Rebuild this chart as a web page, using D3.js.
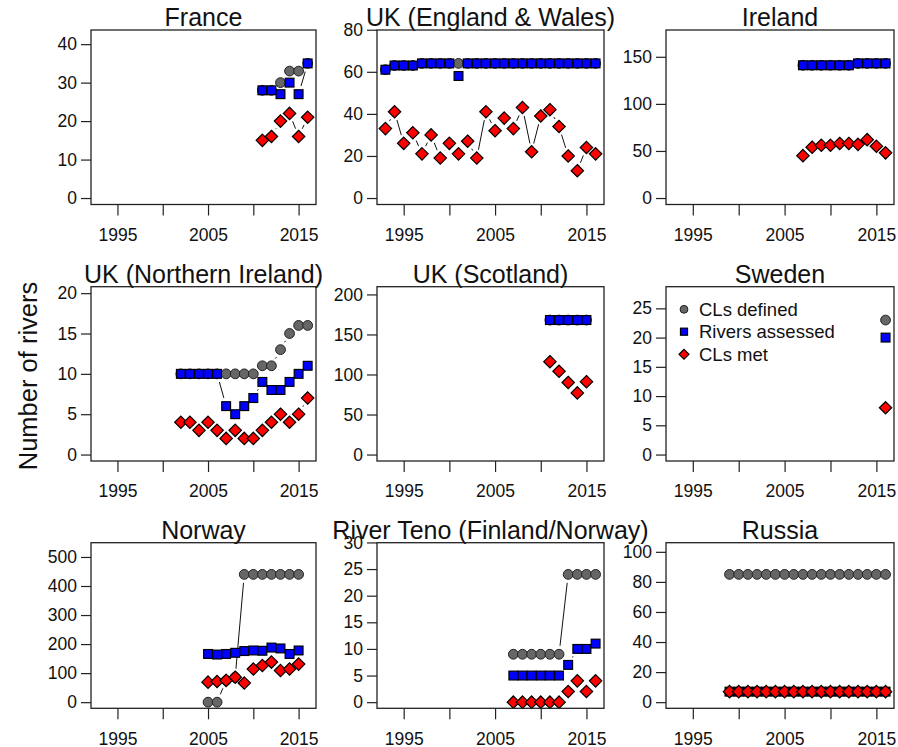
<!DOCTYPE html>
<html>
<head>
<meta charset="utf-8">
<script src="https://cdn.jsdelivr.net/npm/d3@7"></script>
<style>
  body { margin: 0; background: #fff; }
  svg { display: block; font-family: "Liberation Sans", Arial, sans-serif; }
</style>
</head>
<body>
<div id="chart"></div>
<script>
// panel titles, in reading order
const titles = ['France', 'UK (England & Wales)', 'Ireland',
  'UK (Northern Ireland)', 'UK (Scotland)', 'Sweden',
  'Norway', 'River Teno (Finland/Norway)', 'Russia'];

// years for each panel
const franceYears = [2011, 2012, 2013, 2014, 2015, 2016];
const ewYears = [1993, 1994, 1995, 1996, 1997, 1998, 1999, 2000, 2001, 2002, 2003, 2004,
  2005, 2006, 2007, 2008, 2009, 2010, 2011, 2012, 2013, 2014, 2015, 2016];
const irelandYears = [2007, 2008, 2009, 2010, 2011, 2012, 2013, 2014, 2015, 2016];
const niYears = [2002, 2003, 2004, 2005, 2006, 2007, 2008, 2009, 2010, 2011, 2012, 2013, 2014, 2015, 2016];
const scotlandYears = [2011, 2012, 2013, 2014, 2015];
const swedenYears = [2016];
const norwayYears = [2005, 2006, 2007, 2008, 2009, 2010, 2011, 2012, 2013, 2014, 2015];
const tenoYears = [2007, 2008, 2009, 2010, 2011, 2012, 2013, 2014, 2015, 2016];
const russiaYears = [1999, 2000, 2001, 2002, 2003, 2004, 2005, 2006, 2007, 2008, 2009,
  2010, 2011, 2012, 2013, 2014, 2015, 2016];

// CLs defined (grey circles)
const franceDefined = [28, 28, 30, 33, 33, 35];
const ewDefined = [61, 63, 63, 63, 64, 64, 64, 64, 64, 64, 64, 64, 64, 64, 64, 64, 64, 64, 64, 64, 64, 64, 64, 64];
const irelandDefined = [141, 141, 141, 141, 141, 141, 143, 143, 143, 143];
const niDefined = [10, 10, 10, 10, 10, 10, 10, 10, 10, 11, 11, 13, 15, 16, 16];
const scotlandDefined = [168, 168, 168, 168, 168];
const swedenDefined = [23];
const norwayDefined = [0, 0, 75, 86, 440, 440, 440, 440, 440, 440, 440];
const tenoDefined = [9, 9, 9, 9, 9, 9, 24, 24, 24, 24];
const russiaDefined = [85, 85, 85, 85, 85, 85, 85, 85, 85, 85, 85, 85, 85, 85, 85, 85, 85, 85];

// Rivers assessed (blue squares)
const franceAssessed = [28, 28, 27, 30, 27, 35];
const ewAssessed = [61, 63, 63, 63, 64, 64, 64, 64, 58, 64, 64, 64, 64, 64, 64, 64, 64, 64, 64, 64, 64, 64, 64, 64];
const irelandAssessed = [141, 141, 141, 141, 141, 141, 143, 143, 143, 143];
const niAssessed = [10, 10, 10, 10, 10, 6, 5, 6, 7, 9, 8, 8, 9, 10, 11];
const scotlandAssessed = [168, 168, 168, 168, 168];
const swedenAssessed = [20];
const norwayAssessed = [166, 164, 166, 170, 176, 178, 177, 188, 185, 166, 178];
const tenoAssessed = [5, 5, 5, 5, 5, 5, 7, 10, 10, 11];
const russiaAssessed = [7, 7, 7, 7, 7, 7, 7, 7, 7, 7, 7, 7, 7, 7, 7, 7, 7, 7];

// CLs met (red diamonds)
const franceMet = [15, 16, 20, 22, 16, 21];
const ewMet = [33, 41, 26, 31, 21, 30, 19, 26, 21, 27, 19, 41, 32, 38, 33, 43, 22, 39, 42, 34, 20, 13, 24, 21];
const irelandMet = [45, 54, 56, 56, 58, 58, 57, 62, 55, 48];
const niMet = [4, 4, 3, 4, 3, 2, 3, 2, 2, 3, 4, 5, 4, 5, 7];
const scotlandMet = [116, 104, 90, 77, 91];
const swedenMet = [8];
const norwayMet = [69, 71, 75, 86, 66, 114, 126, 138, 109, 114, 131];
const tenoMet = [0, 0, 0, 0, 0, 0, 2, 4, 2, 4];
const russiaMet = [7, 7, 7, 7, 7, 7, 7, 7, 7, 7, 7, 7, 7, 7, 7, 7, 7, 7];

// y axis upper limits and tick labels
const yMax = [42, 76.8, 171.6, 20, 201.6, 27.6, 528, 28.8, 102];
const yTicks = [
  [0, 10, 20, 30, 40], [0, 20, 40, 60, 80], [0, 50, 100, 150],
  [0, 5, 10, 15, 20], [0, 50, 100, 150, 200], [0, 5, 10, 15, 20, 25],
  [0, 100, 200, 300, 400, 500], [0, 5, 10, 15, 20, 25, 30], [0, 20, 40, 60, 80, 100]
];
const xTicks = [1995, 2000, 2005, 2010, 2015];
const xLabels = [1995, 2005, 2015];
const legendLabels = ['CLs defined', 'Rivers assessed', 'CLs met'];

const allYears = [franceYears, ewYears, irelandYears, niYears, scotlandYears, swedenYears, norwayYears, tenoYears, russiaYears];
const allDefined = [franceDefined, ewDefined, irelandDefined, niDefined, scotlandDefined, swedenDefined, norwayDefined, tenoDefined, russiaDefined];
const allAssessed = [franceAssessed, ewAssessed, irelandAssessed, niAssessed, scotlandAssessed, swedenAssessed, norwayAssessed, tenoAssessed, russiaAssessed];
const allMet = [franceMet, ewMet, irelandMet, niMet, scotlandMet, swedenMet, norwayMet, tenoMet, russiaMet];

const width = 898;
const height = 747;
const cols = [[91, 316], [377, 604], [666, 894]];
const rows = [[30, 204.5], [286.7, 461], [542.7, 708.3]];
const gap = 8.5;

const svg = d3.select('#chart')
  .append('svg')
  .attr('width', width)
  .attr('height', height);

svg.append('rect').attr('width', width).attr('height', height).attr('fill', '#fff');

const series = [
  { key: 'defined', shape: 'circle', fill: '#666666', stroke: '#222' },
  { key: 'assessed', shape: 'square', fill: '#0000ff', stroke: '#000' },
  { key: 'met', shape: 'diamond', fill: '#ff0000', stroke: '#000' }
];

function drawMarker(g, shape, x, y, fill, stroke, s) {
  if (shape === 'circle') {
    g.append('circle').attr('cx', x).attr('cy', y).attr('r', 4.9 * s)
      .attr('fill', fill).attr('stroke', stroke).attr('stroke-width', 1);
  } else if (shape === 'square') {
    const h = 4.4 * s;
    g.append('rect').attr('x', x - h).attr('y', y - h).attr('width', 2 * h).attr('height', 2 * h)
      .attr('fill', fill).attr('stroke', stroke).attr('stroke-width', 1.2);
  } else {
    const h = 6.2 * s;
    g.append('path').attr('d', `M${x},${y - h}L${x + h},${y}L${x},${y + h}L${x - h},${y}Z`)
      .attr('fill', fill).attr('stroke', stroke).attr('stroke-width', 1.2);
  }
}

function drawPanel(i) {
  const [x0, x1] = cols[i % 3];
  const [y0, y1] = rows[Math.floor(i / 3)];
  const m = yMax[i];

  const x = d3.scaleLinear().domain([1993 - 0.92, 2016 + 0.92]).range([x0, x1]);
  const y = d3.scaleLinear().domain([-0.04 * m, 1.04 * m]).range([y1, y0]);

  const g = svg.append('g');

  // y axis
  const yAxis = d3.axisLeft(y).tickValues(yTicks[i]).tickSize(10).tickPadding(4);
  const ya = g.append('g').attr('transform', `translate(${x0},0)`).call(yAxis);
  ya.select('.domain').remove();
  ya.selectAll('line').attr('stroke', '#222').attr('stroke-width', 1.2);
  ya.selectAll('text').attr('font-size', 17.5).attr('fill', '#111')
    .attr('font-family', '"Liberation Sans", Arial, sans-serif');

  // x axis, labels only every other tick
  const xAxis = d3.axisBottom(x).tickValues(xTicks).tickSize(11).tickPadding(13)
    .tickFormat(d => xLabels.includes(d) ? d : '');
  const xa = g.append('g').attr('transform', `translate(0,${y1})`).call(xAxis);
  xa.select('.domain').remove();
  xa.selectAll('line').attr('stroke', '#222').attr('stroke-width', 1.2);
  xa.selectAll('text').attr('font-size', 17.5).attr('fill', '#111')
    .attr('font-family', '"Liberation Sans", Arial, sans-serif');

  // title
  g.append('text')
    .attr('x', (x0 + x1) / 2)
    .attr('y', y0 - 4)
    .attr('text-anchor', 'middle')
    .attr('font-size', 25)
    .attr('fill', '#111')
    .text(titles[i]);

  const years = allYears[i];
  const vals = { defined: allDefined[i], assessed: allAssessed[i], met: allMet[i] };

  series.forEach(s => {
    const pts = years.map((yr, j) => [x(yr), y(vals[s.key][j])]);
    // type "b": segments with a gap round each point
    for (let j = 1; j < pts.length; j++) {
      const [ax, ay] = pts[j - 1];
      const [bx, by] = pts[j];
      const d = Math.hypot(bx - ax, by - ay);
      if (d <= 2 * gap) continue;
      const ux = (bx - ax) / d, uy = (by - ay) / d;
      g.append('line')
        .attr('x1', ax + ux * gap).attr('y1', ay + uy * gap)
        .attr('x2', bx - ux * gap).attr('y2', by - uy * gap)
        .attr('stroke', '#111').attr('stroke-width', 1);
    }
    pts.forEach(([px, py]) => drawMarker(g, s.shape, px, py, s.fill, s.stroke, 1));
  });

  // frame
  g.append('rect')
    .attr('x', x0).attr('y', y0)
    .attr('width', x1 - x0).attr('height', y1 - y0)
    .attr('fill', 'none').attr('stroke', '#222').attr('stroke-width', 1.3);

  // legend sits in the Sweden panel
  if (titles[i] === 'Sweden') {
    const ly = [309.3, 331.7, 354.3];
    series.forEach((s, k) => {
      drawMarker(g, s.shape, 684, ly[k], s.fill, s.stroke, 0.8);
      g.append('text')
        .attr('x', 699).attr('y', ly[k])
        .attr('dy', '0.35em')
        .attr('font-size', 18.5)
        .attr('fill', '#111')
        .text(legendLabels[k]);
    });
  }
}

for (let i = 0; i < titles.length; i++) drawPanel(i);

// shared y label
svg.append('text')
  .attr('transform', 'translate(37,376) rotate(-90)')
  .attr('text-anchor', 'middle')
  .attr('font-size', 25.5)
  .attr('fill', '#111')
  .text('Number of rivers');
</script>
</body>
</html>
